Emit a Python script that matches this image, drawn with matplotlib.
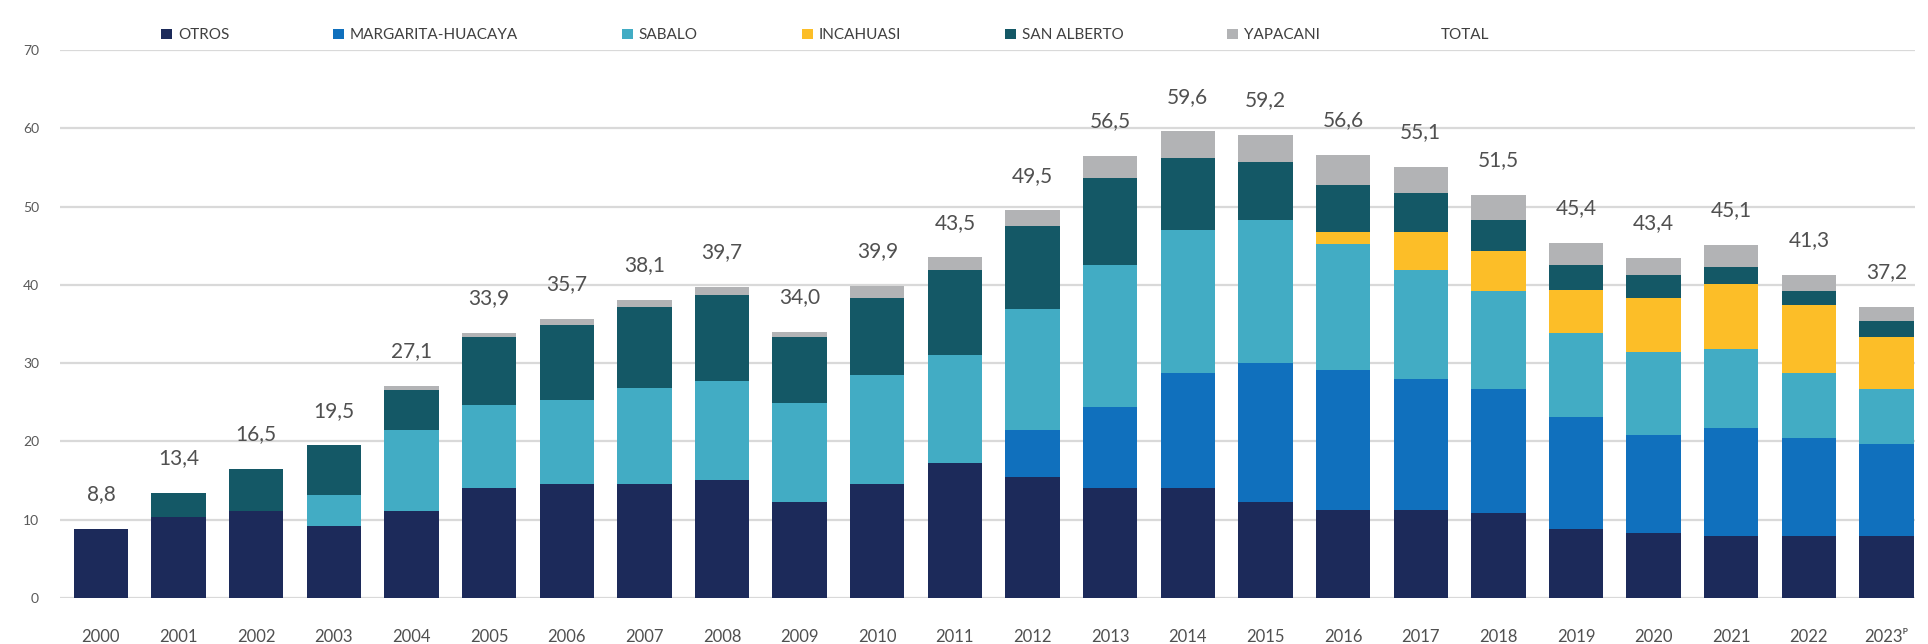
import matplotlib
matplotlib.use('Agg')
import matplotlib.pyplot as plt
import numpy as np
from matplotlib.patches import Patch

plt.rcParams['font.family'] = ['Lato', 'DejaVu Sans']

# Data
years = ['2000', '2001', '2002', '2003', '2004', '2005', '2006', '2007',
         '2008', '2009', '2010', '2011', '2012', '2013', '2014', '2015',
         '2016', '2017', '2018', '2019', '2020', '2021', '2022', '2023ᴾ']

otros = [8.8, 10.3, 11.1, 9.2, 11.1, 14.1, 14.5, 14.5, 15.1, 12.3, 14.5, 17.2,
         15.5, 14.1, 14.1, 12.3, 11.2, 11.2, 10.8, 8.8, 8.3, 7.9, 7.9, 7.9]
margarita = [0, 0, 0, 0, 0, 0, 0, 0, 0, 0, 0, 0,
             5.9, 10.3, 14.6, 17.7, 17.9, 16.8, 15.9, 14.3, 12.5, 13.8, 12.5, 11.8]
sabalo = [0, 0, 0, 4.0, 10.4, 10.6, 10.8, 12.3, 12.6, 12.6, 14.0, 13.9,
          15.5, 18.1, 18.3, 18.3, 16.1, 13.9, 12.5, 10.7, 10.6, 10.1, 8.3, 7.0]
incahuasi = [0, 0, 0, 0, 0, 0, 0, 0, 0, 0, 0, 0,
             0, 0, 0, 0, 1.6, 4.9, 5.1, 5.6, 6.9, 8.3, 8.7, 6.7]
san_alberto = [0, 3.1, 5.4, 6.3, 5.1, 8.6, 9.6, 10.4, 11.0, 8.5, 9.8, 10.8,
               10.6, 11.2, 9.2, 7.4, 6.0, 4.9, 4.0, 3.1, 2.9, 2.2, 1.8, 2.0]
yapacani = [0, 0, 0, 0, 0.5, 0.6, 0.8, 0.9, 1.0, 0.6, 1.6, 1.6,
            2.0, 2.8, 3.4, 3.5, 3.8, 3.4, 3.2, 2.9, 2.2, 2.8, 2.1, 1.8]
total = [8.8, 13.4, 16.5, 19.5, 27.1, 33.9, 35.7, 38.1, 39.7, 34.0, 39.9, 43.5,
         49.5, 56.5, 59.6, 59.2, 56.6, 55.1, 51.5, 45.4, 43.4, 45.1, 41.3, 37.2]

series = [('OTROS', otros, '#1c2a5a'),
          ('MARGARITA-HUACAYA', margarita, '#1070bd'),
          ('SABALO', sabalo, '#42acc4'),
          ('INCAHUASI', incahuasi, '#fcbe28'),
          ('SAN ALBERTO', san_alberto, '#145866'),
          ('YAPACANI', yapacani, '#b2b3b5')]

fig = plt.figure(figsize=(19.28, 6.44), dpi=100)
ax = fig.add_axes([0.031, 0.0714, 0.962, 0.851])

x = np.arange(len(years))
bottom = np.zeros(len(years))
handles = []
for name, vals, col in series:
    vals = np.array(vals)
    ax.bar(x, vals, width=0.7, bottom=bottom, color=col, zorder=3)
    bottom += vals
    handles.append(Patch(facecolor=col, edgecolor='none', label=name))
handles.append(Patch(facecolor='none', edgecolor='none', label='TOTAL'))

# total labels above bars
for xi, t in zip(x, total):
    ax.annotate(f'{t:.1f}'.replace('.', ','), (xi, t), xytext=(0, 25),
                textcoords='offset points', ha='center', va='center',
                fontsize=15, color='#505050')

ax.set_ylim(0, 70)
ax.set_xlim(-0.53, 23.36)
ax.set_yticks(range(0, 71, 10))
ax.set_xticks(x)
ax.set_xticklabels(years)
ax.yaxis.grid(True, color='#d9d9d9', linewidth=1.6, zorder=0)
ax.set_axisbelow(True)
for s in ax.spines.values():
    s.set_visible(False)
ax.tick_params(axis='x', length=0, pad=22, labelsize=12, labelcolor='#505050')
ax.tick_params(axis='y', length=0, pad=15, labelsize=10, labelcolor='#595959')

fig.legend(handles=handles, loc='center', bbox_to_anchor=(0.428, 0.945),
           ncol=7, frameon=False, fontsize=11, handlelength=0.7,
           handleheight=0.7, handletextpad=0.4, columnspacing=6.8,
           labelcolor='#404040')

fig.savefig('out.png', dpi=100)
